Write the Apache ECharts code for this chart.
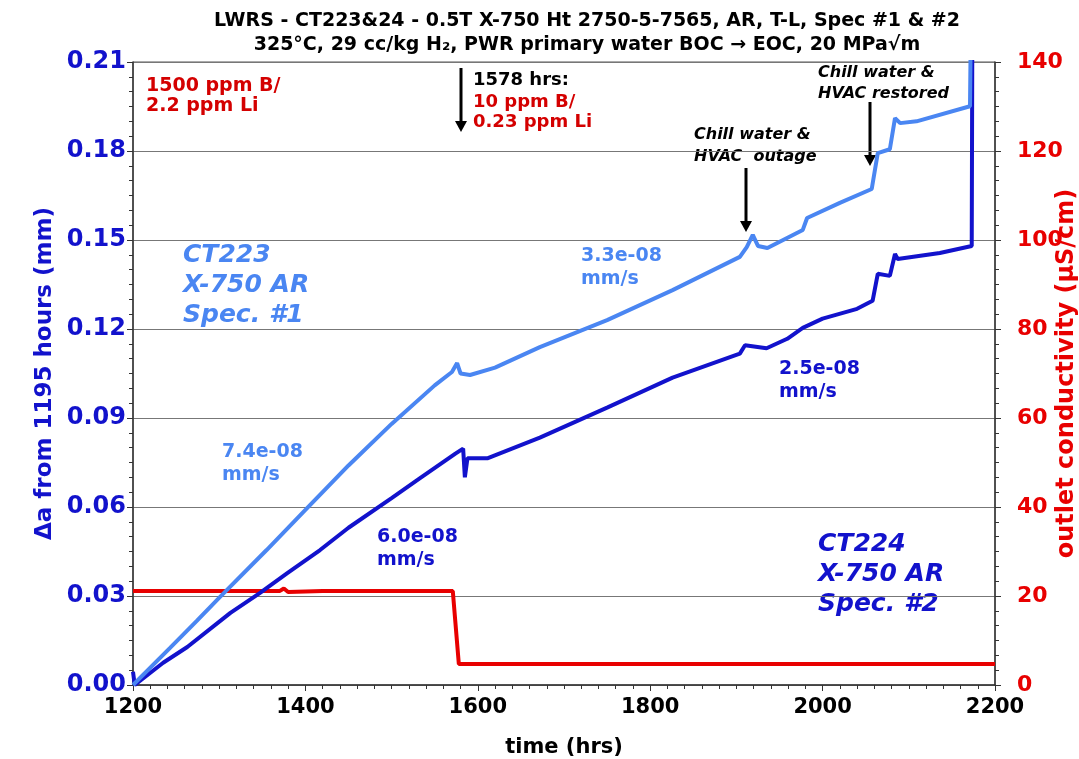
<!DOCTYPE html>
<html><head><meta charset="utf-8">
<script src="https://cdn.jsdelivr.net/npm/echarts@6/dist/echarts.min.js"></script>
<style>html,body{margin:0;padding:0;background:#fff;overflow:hidden}#c{width:1079px;height:759px}</style>
</head><body><div id="c"></div>
<script>
const ct223 = [[1200,0],[1243,0.0125],[1274,0.0216],[1301,0.0297],[1355,0.0455],[1400,0.059],[1450,0.074],[1500,0.088],[1550,0.101],[1570,0.1055],[1576,0.1085],[1580,0.105],[1591,0.1045],[1620,0.107],[1672,0.1139],[1750,0.123],[1826,0.1331],[1904,0.1443],[1912,0.1476],[1919,0.1517],[1925,0.148],[1936,0.1473],[1977,0.1534],[1982,0.1574],[2020,0.1625],[2057,0.1672],[2064,0.1793],[2078,0.1806],[2084,0.1911],[2090,0.1894],[2109,0.19],[2171,0.1951],[2173,0.25]];
const ct224 = [[1200,0.0045],[1202,0],[1235,0.0075],[1263,0.0128],[1313,0.0243],[1347,0.031],[1379,0.0377],[1417,0.0455],[1450,0.053],[1500,0.063],[1533,0.0697],[1574,0.078],[1583,0.0797],[1585,0.07],[1588,0.0764],[1611,0.0764],[1672,0.0834],[1750,0.0935],[1826,0.1036],[1904,0.1117],[1910,0.1145],[1935,0.1135],[1959,0.1167],[1977,0.1204],[2000,0.1235],[2040,0.1268],[2058,0.1295],[2064,0.1386],[2078,0.1379],[2084,0.1453],[2087,0.1436],[2136,0.1456],[2173,0.148],[2174,0.25]];
const conductivity = [[1200,21.1],[1370,21.1],[1375,21.7],[1380,20.9],[1420,21.1],[1571,21.1],[1578,4.7],[2200,4.7]];
const xTicks = [1200,1400,1600,1800,2000,2200];
const leftTicks = [0,0.03,0.06,0.09,0.12,0.15,0.18,0.21];
const rightTicks = [0,20,40,60,80,100,120,140];

const F = 'DejaVu Sans';
const LB = '#4a86f2', DB = '#1212cc', RED = '#e80000', TRED = '#d40000';
function arrow(x, y1, y2){
  return {type:'group', children:[
    {type:'line', shape:{x1:x,y1:y1,x2:x,y2:y2-8}, style:{stroke:'#000',lineWidth:3}},
    {type:'polygon', shape:{points:[[x-6,y2-11],[x+6,y2-11],[x,y2]]}, style:{fill:'#000'}}
  ]};
}
function txt(x,y,t,color,size,lh,italic,bg){
  return {type:'text', left:x, top:y, style:{text:t, fill:color, font:(italic?'italic ':'')+'bold '+size+'px "'+F+'"', lineHeight:lh, backgroundColor:bg?'#fff':null}};
}
const chart = echarts.init(document.getElementById('c'), null, {renderer:'canvas'});
chart.setOption({
  animation:false,
  backgroundColor:'#fff',
  title:{text:'LWRS - CT223&24 - 0.5T X-750 Ht 2750-5-7565, AR, T-L, Spec #1 & #2\n325°C, 29 cc/kg H\u2082, PWR primary water BOC \u2192 EOC, 20 MPa\u221Am', left:582, textAlign:'center', top:4,
    textStyle:{fontFamily:F, fontWeight:'bold', fontSize:19, color:'#000', lineHeight:24}},
  grid:{left:133, right:84, top:62, bottom:74, show:true, borderColor:'#555', borderWidth:1, containLabel:false, outerBoundsMode:'none'},
  xAxis:{type:'value', min:1200, max:2200, interval:200,
    name:'time (hrs)', nameLocation:'middle', nameGap:52, nameMoveOverlap:false, nameTextStyle:{fontFamily:F, fontWeight:'bold', fontSize:21, color:'#000'},
    axisLine:{lineStyle:{color:'#333', width:1.5}}, axisTick:{length:6, lineStyle:{color:'#333'}},
    minorTick:{show:true, splitNumber:10, length:4, lineStyle:{color:'#333'}},
    axisLabel:{fontFamily:F, fontWeight:'bold', fontSize:21, color:'#000', margin:12, formatter:v=>xTicks.includes(v)?String(v):''},
    splitLine:{show:false}},
  yAxis:[
    {type:'value', min:0, max:0.21, interval:0.03, position:'left',
      name:'\u0394a from 1195 hours (mm)', nameLocation:'middle', nameGap:76, nameRotate:90, nameMoveOverlap:false,
      nameTextStyle:{fontFamily:F, fontWeight:'bold', fontSize:23, color:DB},
      axisLine:{show:true, lineStyle:{color:'#333', width:1.5}}, axisTick:{show:true, length:6, lineStyle:{color:'#333'}},
      minorTick:{show:true, splitNumber:6, length:4, lineStyle:{color:'#333'}},
      axisLabel:{fontFamily:F, fontWeight:'bold', fontSize:24, color:DB, margin:7, formatter:v=>leftTicks.find(t=>Math.abs(t-v)<1e-9)!==undefined?v.toFixed(2):''},
      splitLine:{show:true, lineStyle:{color:'#777', width:1}}},
    {type:'value', min:0, max:140, interval:20, position:'right',
      name:'outlet conductivity (\u00B5S/cm)', nameLocation:'middle', nameGap:60, nameRotate:90, nameMoveOverlap:false,
      nameTextStyle:{fontFamily:F, fontWeight:'bold', fontSize:24, color:RED},
      axisLine:{show:true, lineStyle:{color:'#333', width:1.5}}, axisTick:{show:true, length:6, lineStyle:{color:'#333'}},
      minorTick:{show:true, splitNumber:6, length:4, lineStyle:{color:'#333'}},
      axisLabel:{fontFamily:F, fontWeight:'bold', fontSize:22, color:RED, margin:22, formatter:v=>rightTicks.includes(v)?String(v):''},
      splitLine:{show:false}}
  ],
  series:[
    {type:'line', data:conductivity, yAxisIndex:1, showSymbol:false, lineStyle:{color:RED, width:4}, z:3},
    {type:'line', data:ct224, yAxisIndex:0, showSymbol:false, lineStyle:{color:DB, width:4}, z:4},
    {type:'line', data:ct223, yAxisIndex:0, showSymbol:false, lineStyle:{color:LB, width:4}, z:5}
  ],
  graphic:[
    txt(146,76,'1500 ppm B/\n2.2 ppm Li',TRED,19,20,false,false),
    arrow(461,68,132),
    txt(473,70,'1578 hrs:',"#000",18,21,false,false),
    txt(473,92,'10 ppm B/\n0.23 ppm Li',TRED,18,20,false,false),
    txt(694,124,'Chill water &\nHVAC  outage','#000',16,22,true,true),
    arrow(746,168,232),
    txt(818,62,'Chill water &\nHVAC restored','#000',16,21,true,false),
    arrow(870,102,166),
    txt(183,240,'CT223\nX-750 AR\nSpec. #1',LB,25,30,true,true),
    txt(222,441,'7.4e-08\nmm/s',LB,19,23,false,false),
    txt(377,526,'6.0e-08\nmm/s',DB,19,23,false,false),
    txt(581,245,'3.3e-08\nmm/s',LB,19,23,false,false),
    txt(779,358,'2.5e-08\nmm/s',DB,19,23,false,false),
    txt(818,529,'CT224\nX-750 AR\nSpec. #2',DB,25,30,true,true)
  ]
});
</script></body></html>
